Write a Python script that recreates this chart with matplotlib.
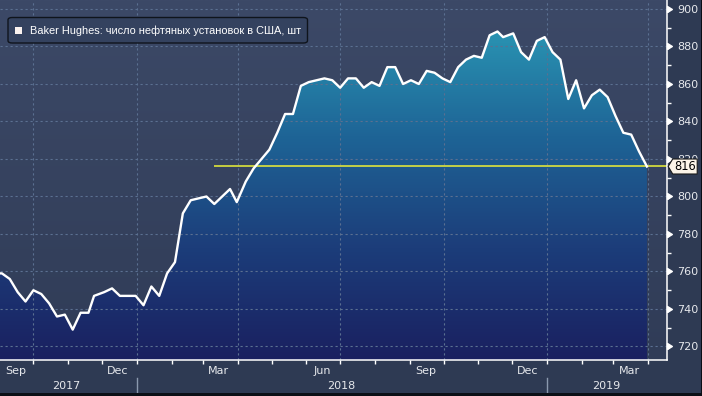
import numpy as np
import pandas as pd
import matplotlib
matplotlib.use("Agg")
import matplotlib.pyplot as plt
import matplotlib.dates as mdates
from matplotlib.colors import LinearSegmentedColormap
from matplotlib.patches import FancyBboxPatch, Rectangle, Polygon
from matplotlib.path import Path
from matplotlib.ticker import MultipleLocator, NullFormatter

# ---------------- data ----------------
week_dates = [
    "2017-08-25", "2017-09-01", "2017-09-08", "2017-09-15", "2017-09-22", "2017-09-29",
    "2017-10-06", "2017-10-13", "2017-10-20", "2017-10-27", "2017-11-03", "2017-11-10",
    "2017-11-17", "2017-11-22", "2017-12-01", "2017-12-08", "2017-12-15", "2017-12-22",
    "2017-12-29",
    "2018-01-05", "2018-01-12", "2018-01-19", "2018-01-26",
    "2018-02-02", "2018-02-09", "2018-02-16", "2018-02-23",
    "2018-03-02", "2018-03-09", "2018-03-16", "2018-03-23", "2018-03-29",
    "2018-04-06", "2018-04-13", "2018-04-20", "2018-04-27",
    "2018-05-04", "2018-05-11", "2018-05-18", "2018-05-25",
    "2018-06-01", "2018-06-08", "2018-06-15", "2018-06-22", "2018-06-29",
    "2018-07-06", "2018-07-13", "2018-07-20", "2018-07-27",
    "2018-08-03", "2018-08-10", "2018-08-17", "2018-08-24", "2018-08-31",
    "2018-09-07", "2018-09-14", "2018-09-21", "2018-09-28",
    "2018-10-05", "2018-10-12", "2018-10-19", "2018-10-26",
    "2018-11-02", "2018-11-09", "2018-11-16", "2018-11-21", "2018-11-30",
    "2018-12-07", "2018-12-14", "2018-12-21", "2018-12-28",
    "2019-01-04", "2019-01-11", "2019-01-18", "2019-01-25",
    "2019-02-01", "2019-02-08", "2019-02-15", "2019-02-22",
    "2019-03-01", "2019-03-08", "2019-03-15", "2019-03-22", "2019-03-29",
]
oil_rigs = [
    759, 759, 756, 749, 744, 750,
    748, 743, 736, 737, 729, 738,
    738, 747, 749, 751, 747, 747,
    747,
    742, 752, 747, 759,
    765, 791, 798, 799,
    800, 796, 800, 804, 797,
    808, 815, 820, 825,
    834, 844, 844, 859,
    861, 862, 863, 862, 858,
    863, 863, 858, 861,
    859, 869, 869, 860, 862,
    860, 867, 866, 863,
    861, 869, 873, 875,
    874, 886, 888, 885, 887,
    877, 873, 883, 885,
    877, 873, 852, 862,
    847, 854, 857, 853,
    843, 834, 833, 824, 816,
]
last_value = 816
ref_line_start = "2018-03-11"
y_ticks = [720, 740, 760, 780, 800, 820, 840, 860, 880, 900]
quarter_grid = ["2017-10-01", "2018-01-01", "2018-04-01", "2018-07-01",
                "2018-10-01", "2019-01-01", "2019-04-01"]
year_bounds = ["2018-01-01", "2019-01-01"]
year_labels = ["2017", "2018", "2019"]
year_label_pos = ["2017-10-30", "2018-07-02", "2019-02-23"]
legend_text = "Baker Hughes: число нефтяных установок в США, шт"

# ---------------- style ----------------
FIG_BG = "#2e3a53"
TXT = "#e6e8ec"
GRID = "#5b7091"
W, H = 702, 396

dates = pd.to_datetime(week_dates) + pd.Timedelta(days=2)  # plotted at week end
xmin = pd.Timestamp("2017-09-01 07:00")
xmax = pd.Timestamp("2019-04-17 14:00")
ymin, ymax = 712.8, 904.8

fig = plt.figure(figsize=(W / 100, H / 100), dpi=100, facecolor=FIG_BG)
ax = fig.add_axes([0, 36 / H, 666.7 / W, 360 / H])
ax.set_facecolor("#363f5c")

ax.plot(dates, oil_rigs, color="white", lw=1.7, zorder=5, solid_joinstyle="round")
ax.set_xlim(xmin, xmax)
ax.set_ylim(ymin, ymax)
ax.set_autoscale_on(False)

x0n, x1n = mdates.date2num(xmin), mdates.date2num(xmax)

# background gradient
bg_cmap = LinearSegmentedColormap.from_list("bg", ["#303c57", "#3c4967"])
ax.imshow(np.linspace(0, 1, 256).reshape(-1, 1), cmap=bg_cmap, origin="lower",
          extent=[x0n, x1n, ymin, ymax], aspect="auto", zorder=0,
          interpolation="bilinear")

# gradient fill under the curve
fb = ax.fill_between(dates, oil_rigs, ymin, color="none", lw=0)
clip = fb.get_paths()[0]
fill_cmap = LinearSegmentedColormap.from_list(
    "fill", ["#1a2060", "#1c3d7a", "#1e6496", "#2a96b4"])
im = ax.imshow(np.linspace(0, 1, 256).reshape(-1, 1), cmap=fill_cmap,
               origin="lower", extent=[x0n, x1n, ymin, 892], aspect="auto",
               zorder=1, interpolation="bilinear")
im.set_clip_path(clip, transform=ax.transData)
ax.set_xlim(xmin, xmax)
ax.set_ylim(ymin, ymax)

# grid
for v in y_ticks:
    ax.axhline(v, color=GRID, lw=0.8, ls=(0, (2, 2.5)), zorder=2)
for d in quarter_grid:
    ax.axvline(pd.Timestamp(d), color=GRID, lw=0.8, ls=(0, (2, 2.5)), zorder=2)

# reference line at last value
ax.hlines(last_value, pd.Timestamp(ref_line_start), xmax, color="#dfe53a",
          lw=1.2, zorder=4)

# spines
for s in ["top", "left"]:
    ax.spines[s].set_visible(False)
for s in ["right", "bottom"]:
    ax.spines[s].set_color("white")
    ax.spines[s].set_linewidth(1.1)
    ax.spines[s].set_zorder(6)

# y axis on the right
ax.yaxis.tick_right()
ax.set_yticks(y_ticks)
ax.yaxis.set_minor_locator(MultipleLocator(10))
ax.tick_params(axis="y", which="major", length=0, pad=7.5, labelsize=8,
               labelcolor=TXT)
ax.tick_params(axis="y", which="minor", length=3, width=1, color="white",
               direction="out")
tri = Path([(0, -1), (1.6, 0), (0, 1), (0, -1)])
ax.plot([1.0] * len(y_ticks), y_ticks, transform=ax.get_yaxis_transform(),
        ls="none", marker=tri, ms=7, color="white", mec="white",
        clip_on=False, zorder=7)

# x axis: ticks at month starts, labels mid-month for quarter months
ax.xaxis.set_major_locator(mdates.MonthLocator())
ax.xaxis.set_major_formatter(NullFormatter())
ax.xaxis.set_minor_locator(mdates.MonthLocator(bymonth=[3, 6, 9, 12], bymonthday=15))
ax.xaxis.set_minor_formatter(mdates.DateFormatter("%b"))
ax.tick_params(axis="x", which="major", length=3, width=1, color="white",
               direction="out")
ax.tick_params(axis="x", which="minor", length=0, pad=4.5, labelsize=8,
               labelcolor=TXT)

# year row
xtr = ax.get_xaxis_transform()
for d in year_bounds:
    ax.plot([pd.Timestamp(d)] * 2, [-17.7 / 360, -33 / 360], transform=xtr,
            color="#8a98ae", lw=1, clip_on=False)
for lbl, d in zip(year_labels, year_label_pos):
    ax.text(pd.Timestamp(d), -26 / 360, lbl, transform=xtr, ha="center",
            va="center", fontsize=8, color=TXT)

# last value label with arrow (covers the 820 tick label as in the original)
px, py = ax.transData.transform((mdates.date2num(xmax), last_value))
bx0, bx1, hh = px + 6, px + 30.5, 7.5
lab = Polygon([(px + 1.5, py), (bx0, py + hh), (bx1, py + hh), (bx1, py - hh),
               (bx0, py - hh)], closed=True, transform=None, fc="#fcf4e8",
              ec="#1a1a1a", lw=0.8, zorder=8)
fig.add_artist(lab)
fig.text((bx0 + bx1) / 2 / W, py / H, str(last_value), ha="center",
         va="center", fontsize=8.3, color="black", zorder=9)

# legend box
leg = FancyBboxPatch((8 / W, (H - 43) / H), 299.5 / W, 25.5 / H,
                     boxstyle="round,pad=0,rounding_size=0.006",
                     transform=fig.transFigure, fc="#34425f", ec="#0f141c",
                     lw=1, zorder=10)
fig.add_artist(leg)
fig.add_artist(Rectangle((15 / W, (H - 34) / H), 7.5 / W, 7.5 / H,
                         transform=fig.transFigure, fc="#fbf3f0", ec="none",
                         zorder=11))
fig.text(29.5 / W, (H - 30.5) / H, legend_text, ha="left", va="center",
         fontsize=7.9, family=["Liberation Sans", "DejaVu Sans"],
         color="white", zorder=12)

# dark frame edges
fig.add_artist(Rectangle((0, 0), 1, 3 / H, transform=fig.transFigure,
                         fc="#0b0f16", ec="none", zorder=20))
fig.add_artist(Rectangle((1 - 1.5 / W, 0), 1.5 / W, 1, transform=fig.transFigure,
                         fc="#0b0f16", ec="none", zorder=20))

fig.savefig("out.png", dpi=100, facecolor=FIG_BG)
